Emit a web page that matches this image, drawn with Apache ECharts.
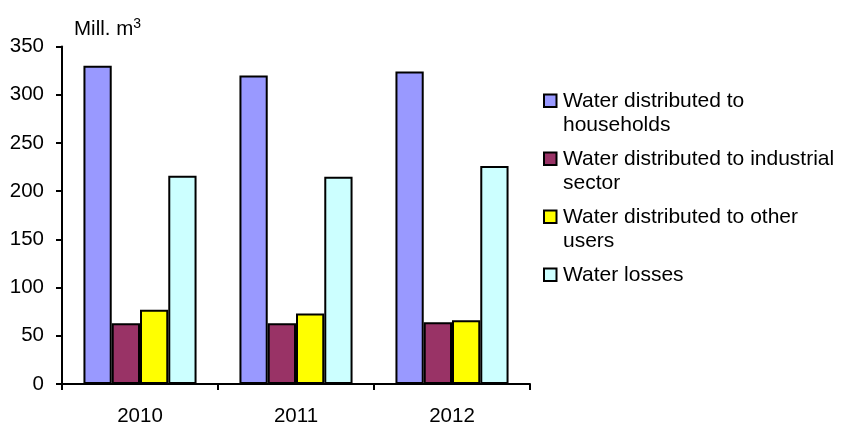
<!DOCTYPE html>
<html>
<head>
<meta charset="utf-8">
<script src="https://cdn.jsdelivr.net/npm/echarts@6/dist/echarts.min.js"></script>
<style>html,body{margin:0;padding:0;background:#fff;}#c{width:843px;height:423px;}</style>
</head>
<body>
<div id="c"></div>
<script>
const categories = ['2010', '2011', '2012'];
const households = [330, 320, 324];
const industrial = [63, 63, 64];
const otherUsers = [77, 73, 66];
const losses = [216, 215, 226];
const seriesNames = [
  'Water distributed to households',
  'Water distributed to industrial sector',
  'Water distributed to other users',
  'Water losses'
];
const legendLabels = {
  'Water distributed to households': '\nWater distributed to\nhouseholds',
  'Water distributed to industrial sector': '\nWater distributed to industrial\nsector',
  'Water distributed to other users': '\nWater distributed to other\nusers',
  'Water losses': '\nWater losses\n'
};
const colors = ['#9999FF', '#993366', '#FFFF00', '#CCFFFF'];
const values = [households, industrial, otherUsers, losses];
const font = '"Liberation Sans", Arial, sans-serif';

const chart = echarts.init(document.getElementById('c'), null, {renderer: 'canvas'});
chart.setOption({
  animation: false,
  backgroundColor: '#fff',
  grid: {left: 62, right: 313, top: 46.5, bottom: 39, containLabel: false, outerBoundsMode: 'none'},
  legend: {
    orient: 'vertical',
    left: 543,
    top: 64,
    padding: 0,
    itemGap: -15.5,
    itemWidth: 12.5,
    itemHeight: 12.5,
    icon: 'rect',
    itemStyle: {borderColor: '#000', borderWidth: 2},
    data: seriesNames,
    formatter: n => legendLabels[n],
    textStyle: {fontFamily: font, fontSize: 21, color: '#000', lineHeight: 24.5, padding: [0, 0, 0, 1.5]}
  },
  xAxis: {
    type: 'category',
    data: categories,
    axisLine: {lineStyle: {color: '#000', width: 2}},
    axisTick: {show: true, length: 6, lineStyle: {color: '#000', width: 2}},
    axisLabel: {fontFamily: font, fontSize: 20.5, color: '#000', margin: 22}
  },
  yAxis: {
    type: 'value',
    min: 0, max: 350, interval: 50,
    name: '{a|Mill. m}{s|3}',
    nameGap: 7,
    nameTextStyle: {
      align: 'left',
      padding: [0, 0, 0, 12],
      rich: {
        a: {fontFamily: font, fontSize: 20.5, color: '#000', lineHeight: 22, verticalAlign: 'bottom'},
        s: {fontFamily: font, fontSize: 14, color: '#000', lineHeight: 22, verticalAlign: 'top'}
      }
    },
    axisLine: {show: true, lineStyle: {color: '#000', width: 2}},
    axisTick: {show: true, length: 6, lineStyle: {color: '#000', width: 2}},
    splitLine: {show: false},
    axisLabel: {fontFamily: font, fontSize: 20.5, color: '#000', margin: 18}
  },
  series: seriesNames.map((n, i) => ({
    name: n,
    type: 'bar',
    data: values[i],
    barGap: '0%',
    barCategoryGap: '27.5%',
    itemStyle: {color: colors[i], borderColor: '#000', borderWidth: 2}
  }))
});
</script>
</body>
</html>
